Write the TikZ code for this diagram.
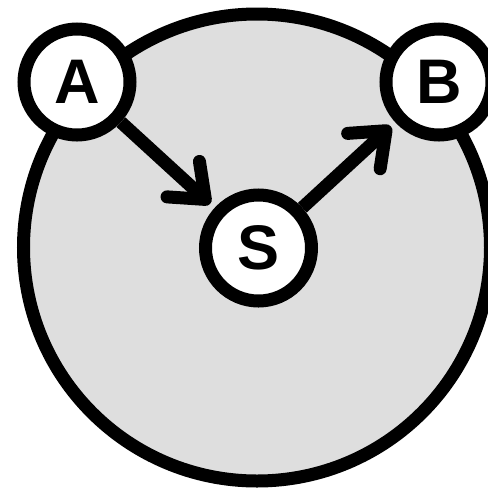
\documentclass[tikz,border=0pt]{standalone}
\usepackage{fontspec}
\setmainfont{Liberation Sans}
\usetikzlibrary{arrows.meta}
\definecolor{ringfill}{RGB}{222,222,222}
\tikzset{
  lw/.style={line width=13pt},
  ptnode/.style={circle, draw, lw, fill=white, minimum size=106pt, inner sep=0pt,
    font=\fontsize{63}{63}\selectfont\bfseries},
  arr/.style={lw, -{Straight Barb[length=30pt, width=48pt, round]}, shorten >=6pt}
}
\begin{document}
\begin{tikzpicture}[x=1pt, y=-1pt]
\useasboundingbox (0,0) rectangle (488,491);
\clip (0,0) rectangle (488,491);
\draw[lw, fill=ringfill] (257,247.5) circle[radius=233.5];
\node[ptnode] (A) at (77,82) {A};
\node[ptnode] (B) at (439,82) {B};
\node[ptnode] (S) at (258.5,248) {S};
\draw[arr] (A) -- (S);
\draw[arr] (S) -- (B);
\end{tikzpicture}
\end{document}
